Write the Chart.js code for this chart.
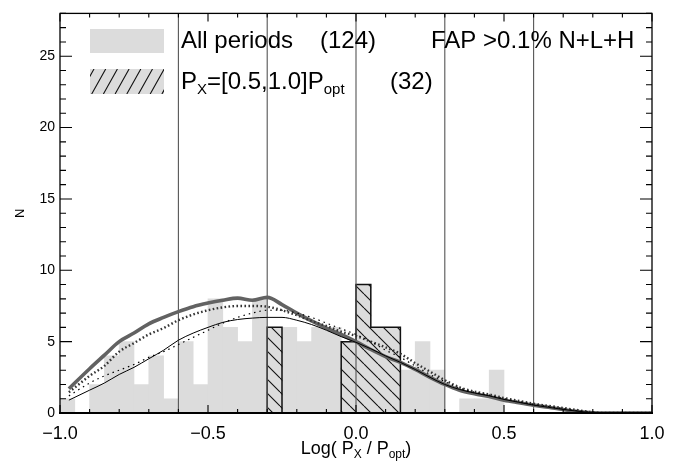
<!DOCTYPE html>
<html>
<head>
<meta charset="utf-8">
<script src="https://cdn.jsdelivr.net/npm/chart.js@4.4.1/dist/chart.umd.min.js"></script>
<style>
  html, body { margin: 0; padding: 0; background: #fff; }
  #wrap { width: 680px; height: 465px; }
</style>
</head>
<body>
<div id="wrap"><canvas id="c" width="680" height="465"></canvas></div>
<script>
// Histogram bins: width 0.05 in log(Px/Popt), left edges starting at -1.0
const binStart = -1.0;
const binWidth = 0.05;
const allPeriods = [1, 0, 2, 4, 5, 2, 4, 1, 5, 2,
                    8, 6, 5, 8, 6, 6, 5, 6, 6, 5,
                    9, 6, 6, 3, 5, 3, 0, 1, 1, 3,
                    0, 0, 0, 0, 0, 0, 0, 0, 0, 0];
const subsetPeriods = [0, 0, 0, 0, 0, 0, 0, 0, 0, 0,
                       0, 0, 0, 0, 6, 0, 0, 0, 0, 5,
                       9, 6, 6, 0, 0, 0, 0, 0, 0, 0,
                       0, 0, 0, 0, 0, 0, 0, 0, 0, 0];

// Vertical reference positions
const refLines = [-0.6, -0.3, 0.0, 0.3, 0.6];

// Smoothed distributions sampled along log(Px/Popt)
const curveX = [-0.97, -0.90, -0.85, -0.80, -0.75, -0.70, -0.65, -0.60, -0.55, -0.50,
                -0.45, -0.40, -0.35, -0.30, -0.25, -0.20, -0.15, -0.10, -0.05, 0.00,
                 0.05,  0.10,  0.15,  0.20,  0.25,  0.30,  0.35,  0.40,  0.45, 0.50,
                 0.55,  0.60,  0.65,  0.70,  0.75,  0.80,  0.85,  0.90,  0.95, 1.00];
const curveThick = [1.7, 3.1, 4.05, 5.0, 5.6, 6.25, 6.7, 7.1, 7.45, 7.7,
                    7.9, 8.05, 7.9, 8.1, 7.6, 7.0, 6.45, 5.95, 5.5, 5.0,
                    4.45, 3.95, 3.55, 3.05, 2.5, 2.0, 1.6, 1.35, 1.15, 0.9,
                    0.72, 0.55, 0.4, 0.24, 0.1, 0.02, 0, 0, 0, 0];
const curveDottedThick = [1.45, 2.6, 3.3, 4.3, 4.9, 5.5, 5.95, 6.5, 6.9, 7.2,
                          7.4, 7.5, 7.5, 7.45, 7.2, 6.85, 6.45, 6.1, 5.7, 5.4,
                          5.0, 4.6, 4.15, 3.5, 2.9, 2.3, 1.8, 1.5, 1.3, 1.05,
                          0.85, 0.65, 0.5, 0.35, 0.2, 0.05, 0, 0, 0, 0];
const curveDottedThin = [1.2, 2.1, 2.6, 3.0, 3.4, 3.9, 4.3, 4.8, 5.3, 5.8,
                         6.3, 6.7, 7.0, 7.2, 7.2, 7.0, 6.7, 6.3, 5.9, 5.5,
                         5.0, 4.4, 3.9, 3.3, 2.7, 2.2, 1.75, 1.45, 1.25, 1.0,
                         0.8, 0.6, 0.45, 0.3, 0.15, 0.05, 0, 0, 0, 0];
const curveSolidThin = [0.9, 1.6, 2.1, 2.7, 3.2, 3.8, 4.4, 5.1, 5.6, 6.0,
                        6.35, 6.55, 6.65, 6.7, 6.7, 6.5, 6.2, 5.8, 5.35, 4.95,
                        4.5, 4.0, 3.55, 3.05, 2.5, 2.0, 1.65, 1.4, 1.2, 0.95,
                        0.75, 0.55, 0.4, 0.25, 0.12, 0.03, 0, 0, 0, 0];

// Axis ranges and labelled ticks
const xMin = -1.0, xMax = 1.0;
const yMin = 0, yMax = 28;
const xTickValues = [-1.0, -0.5, 0.0, 0.5, 1.0];
const yTickValues = [0, 5, 10, 15, 20, 25];

const SANS = '"Liberation Sans", Arial, Helvetica, sans-serif';
Chart.defaults.font.family = SANS;
Chart.defaults.color = '#000';

const binCentre = i => binStart + (i + 0.5) * binWidth;
const pts = (xs, ys) => xs.map((x, i) => ({ x: x, y: ys[i] }));

// Hatch fill for the subset histogram: light grey with "\" strokes
function hatchFill() {
  const s = 14;
  const c = document.createElement('canvas');
  c.width = s; c.height = s;
  const g = c.getContext('2d');
  g.fillStyle = '#dcdcdc';
  g.fillRect(0, 0, s, s);
  g.strokeStyle = '#111';
  g.lineWidth = 1.1;
  g.beginPath();
  for (const k of [-1, 0, 1]) { g.moveTo(k * s, 0); g.lineTo(k * s + s, s); }
  g.stroke();
  return g.createPattern(c, 'repeat');
}

// Step outline around the subset histogram
const subsetOutline = subsetPeriods.map((h, i) => ({ x: binStart + i * binWidth, y: h }));
subsetOutline.push({ x: binStart + subsetPeriods.length * binWidth, y: 0 });

function textRun(ctx, parts, x, y) {
  // parts: [text, size, dy]
  let cx = x;
  for (const [t, size, dy] of parts) {
    ctx.font = size + 'px ' + SANS;
    ctx.fillText(t, cx, y + dy);
    cx += ctx.measureText(t).width;
  }
  return cx - x;
}
function runWidth(ctx, parts) {
  let w = 0;
  for (const [t, size] of parts) { ctx.font = size + 'px ' + SANS; w += ctx.measureText(t).width; }
  return w;
}

const decorations = {
  id: 'decorations',
  afterDraw(chart) {
    const { ctx, chartArea: a, scales: { x, y } } = chart;
    ctx.save();

    // plot frame
    ctx.strokeStyle = '#000';
    ctx.lineWidth = 1.3;
    ctx.strokeRect(a.left, a.top, a.right - a.left, a.bottom - a.top);
    ctx.lineWidth = 2.2;
    ctx.beginPath();
    ctx.moveTo(a.left - 1, a.bottom); ctx.lineTo(a.right + 1, a.bottom);
    ctx.stroke();

    // inward tick marks on all four sides
    ctx.lineWidth = 1.1;
    ctx.beginPath();
    for (let i = -10; i <= 10; i++) {
      const px = x.getPixelForValue(i / 10);
      const len = i % 5 === 0 ? 8 : 4;
      ctx.moveTo(px, a.bottom); ctx.lineTo(px, a.bottom - len);
      ctx.moveTo(px, a.top); ctx.lineTo(px, a.top + len);
    }
    for (let v = yMin; v <= yMax; v++) {
      const py = y.getPixelForValue(v);
      const len = v % 5 === 0 ? 12 : 6;
      ctx.moveTo(a.left, py); ctx.lineTo(a.left + len, py);
      ctx.moveTo(a.right, py); ctx.lineTo(a.right - len, py);
    }
    ctx.stroke();

    // key swatches
    ctx.fillStyle = '#dcdcdc';
    ctx.fillRect(90, 29, 74, 24);
    ctx.fillRect(90, 69, 74, 25);
    ctx.save();
    ctx.beginPath();
    ctx.rect(90, 69, 74, 25);
    ctx.clip();
    ctx.strokeStyle = '#111';
    ctx.lineWidth = 1.1;
    ctx.beginPath();
    for (let sx = 80; sx < 175; sx += 11.7) {
      ctx.moveTo(sx, 94); ctx.lineTo(sx + 14, 69);
    }
    ctx.stroke();
    ctx.restore();

    // key text
    ctx.fillStyle = '#000';
    ctx.textBaseline = 'alphabetic';
    ctx.textAlign = 'left';
    textRun(ctx, [['All periods', 24, 0]], 181, 48);
    textRun(ctx, [['(124)', 24, 0]], 320, 48);
    textRun(ctx, [['FAP >0.1% N+L+H', 24, 0]], 431, 48);
    textRun(ctx, [['P', 24, 0], ['X', 15, 5], ['=[0.5,1.0]P', 24, 0], ['opt', 15, 5]], 181, 89);
    textRun(ctx, [['(32)', 24, 0]], 390, 89);

    // x-axis title with subscripts
    const xt = [['Log( P', 18, 0], ['X', 12, 4], [' / P', 18, 0], ['opt', 12, 4], [')', 18, 0]];
    const w = runWidth(ctx, xt);
    textRun(ctx, xt, (a.left + a.right) / 2 - w / 2, 454);

    // y-axis title
    ctx.translate(20, (a.top + a.bottom) / 2);
    ctx.rotate(-Math.PI / 2);
    ctx.textAlign = 'center';
    ctx.textBaseline = 'middle';
    ctx.font = '13px ' + SANS;
    ctx.fillText('N', 0, 0);
    ctx.restore();
  }
};

const lineBase = { type: 'line', pointRadius: 0, fill: false, cubicInterpolationMode: 'monotone' };

const datasets = [
  Object.assign({}, lineBase, { label: 'thin solid', data: pts(curveX, curveSolidThin),
    borderColor: '#000', borderWidth: 1 }),
  Object.assign({}, lineBase, { label: 'thin dotted', data: pts(curveX, curveDottedThin),
    borderColor: '#000', borderWidth: 1.2, borderDash: [1.5, 4] }),
  Object.assign({}, lineBase, { label: 'thick dotted', data: pts(curveX, curveDottedThick),
    borderColor: '#333', borderWidth: 2.4, borderDash: [1.6, 2.4] }),
  Object.assign({}, lineBase, { label: 'thick', data: pts(curveX, curveThick),
    borderColor: '#626262', borderWidth: 3.6 })
];
refLines.forEach(v => datasets.push({
  type: 'line', label: 'ref ' + v, data: [{ x: v, y: yMin }, { x: v, y: yMax }],
  borderColor: '#555', borderWidth: 1.1, pointRadius: 0, fill: false
}));
datasets.push({
  type: 'line', label: 'subset outline', data: subsetOutline, stepped: 'before',
  borderColor: '#111', borderWidth: 1.5, pointRadius: 0, fill: false
});
datasets.push({
  type: 'bar', label: 'Px=[0.5,1.0]Popt (32)',
  data: subsetPeriods.map((h, i) => ({ x: binCentre(i), y: h })),
  backgroundColor: hatchFill(), borderWidth: 0,
  barPercentage: 1, categoryPercentage: 1, grouped: false
});
datasets.push({
  type: 'bar', label: 'All periods (124)',
  data: allPeriods.map((h, i) => ({ x: binCentre(i), y: h })),
  backgroundColor: '#dcdcdc', borderWidth: 0,
  barPercentage: 1, categoryPercentage: 1, grouped: false
});

new Chart(document.getElementById('c'), {
  type: 'bar',
  data: { datasets: datasets },
  options: {
    responsive: false,
    devicePixelRatio: 1,
    animation: false,
    layout: { padding: { top: 4, right: 28, left: 0, bottom: 0 } },
    plugins: { legend: { display: false }, tooltip: { enabled: false } },
    scales: {
      x: {
        type: 'linear', min: xMin, max: xMax, offset: false,
        grid: { display: false, drawTicks: false }, border: { display: false },
        afterBuildTicks: s => { s.ticks = xTickValues.map(v => ({ value: v })); },
        afterFit: s => { s.height = 52; },
        ticks: {
          padding: 10, maxRotation: 0, autoSkip: false,
          font: { size: 18 }, color: '#000',
          callback: v => (v < 0 ? '\u2212' : '') + Math.abs(v).toFixed(1)
        }
      },
      y: {
        type: 'linear', min: yMin, max: yMax,
        grid: { display: false, drawTicks: false }, border: { display: false },
        afterBuildTicks: s => { s.ticks = yTickValues.map(v => ({ value: v })); },
        afterFit: s => { s.width = 60; },
        ticks: { padding: 5, font: { size: 14 }, color: '#000', callback: v => String(v) }
      }
    }
  },
  plugins: [decorations]
});
</script>
</body>
</html>
